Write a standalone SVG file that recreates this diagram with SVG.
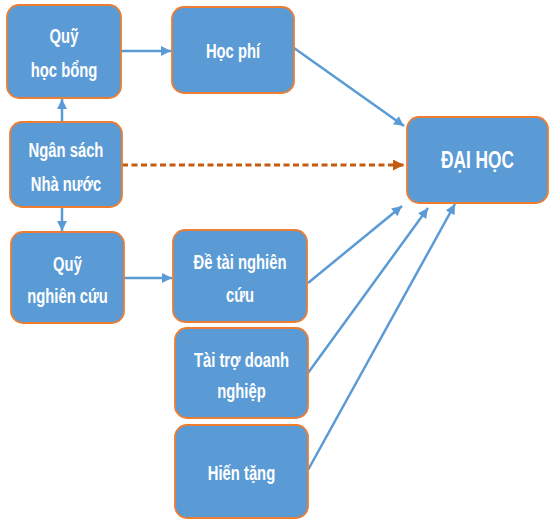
<svg xmlns="http://www.w3.org/2000/svg" width="549" height="520" viewBox="0 0 549 520">
<defs>
<style>
.box{fill:#5B9BD5;stroke:#ED7D31;stroke-width:1.8}
.t{font-family:"Liberation Sans",Arial,sans-serif;font-weight:bold;font-size:14.8px;fill:#FFFFFF;text-anchor:middle}
.tb{font-size:17.3px}
.c{stroke:#5B9BD5;stroke-width:2.5;fill:none}
.d{stroke:#C55A11;stroke-width:2.8;stroke-dasharray:6 3.5;fill:none}
</style>
<marker id="ab" viewBox="0 0 10 10" refX="10" refY="5" markerWidth="11" markerHeight="10" markerUnits="userSpaceOnUse" orient="auto">
<path d="M0,0 L10,5 L0,10 Z" fill="#5B9BD5"/>
</marker>
<marker id="ao" viewBox="0 0 10 10" refX="10" refY="5" markerWidth="11" markerHeight="11" markerUnits="userSpaceOnUse" orient="auto">
<path d="M0,0 L10,5 L0,10 Z" fill="#C55A11"/>
</marker>
</defs>
<g id="connectors">
<line class="c" x1="62" y1="122" x2="62" y2="99" marker-end="url(#ab)"/>
<line class="c" x1="62" y1="207" x2="62" y2="231" marker-end="url(#ab)"/>
<line class="c" x1="121" y1="51" x2="171" y2="51" marker-end="url(#ab)"/>
<line class="c" x1="124" y1="278" x2="172" y2="278" marker-end="url(#ab)"/>
<line class="d" x1="122" y1="165" x2="404" y2="165" marker-end="url(#ao)"/>
<line class="c" x1="294" y1="48" x2="404" y2="126" marker-end="url(#ab)"/>
<line class="c" x1="308" y1="283" x2="402" y2="206" marker-end="url(#ab)"/>
<line class="c" x1="308" y1="373" x2="428" y2="208" marker-end="url(#ab)"/>
<line class="c" x1="308" y1="470" x2="455" y2="204" marker-end="url(#ab)"/>
</g>
<g id="quy-hoc-bong">
<rect class="box" x="7" y="5" width="114" height="93" rx="12"/>
<text class="t" transform="translate(64,43) scale(1,1.35)">Quỹ</text>
<text class="t" transform="translate(64,77) scale(1,1.35)">học bổng</text>
</g>
<g id="hoc-phi">
<rect class="box" x="172" y="7" width="122" height="86" rx="12"/>
<text class="t" transform="translate(233,58) scale(1,1.35)">Học phí</text>
</g>
<g id="ngan-sach">
<rect class="box" x="10" y="122" width="112" height="85" rx="12"/>
<text class="t" transform="translate(66,157) scale(1,1.35)">Ngân sách</text>
<text class="t" transform="translate(66,191) scale(1,1.35)">Nhà nước</text>
</g>
<g id="quy-nghien-cuu">
<rect class="box" x="11" y="232" width="113" height="91" rx="12"/>
<text class="t" transform="translate(67.5,271) scale(1,1.35)">Quỹ</text>
<text class="t" transform="translate(67.5,303) scale(1,1.35)">nghiên cứu</text>
</g>
<g id="de-tai">
<rect class="box" x="173" y="230" width="134" height="92" rx="12"/>
<text class="t" transform="translate(240,269) scale(1,1.35)">Đề tài nghiên</text>
<text class="t" transform="translate(240,302) scale(1,1.35)">cứu</text>
</g>
<g id="tai-tro">
<rect class="box" x="175" y="328" width="133" height="90" rx="12"/>
<text class="t" transform="translate(241.5,367) scale(1,1.35)">Tài trợ doanh</text>
<text class="t" transform="translate(241.5,398) scale(1,1.35)">nghiệp</text>
</g>
<g id="hien-tang">
<rect class="box" x="175" y="425" width="133" height="93" rx="12"/>
<text class="t" transform="translate(241.5,480) scale(1,1.35)">Hiến tặng</text>
</g>
<g id="dai-hoc">
<rect class="box" x="407" y="117" width="141" height="86" rx="12"/>
<text class="t tb" transform="translate(477.5,168) scale(1,1.35)">ĐẠI HỌC</text>
</g>
</svg>
